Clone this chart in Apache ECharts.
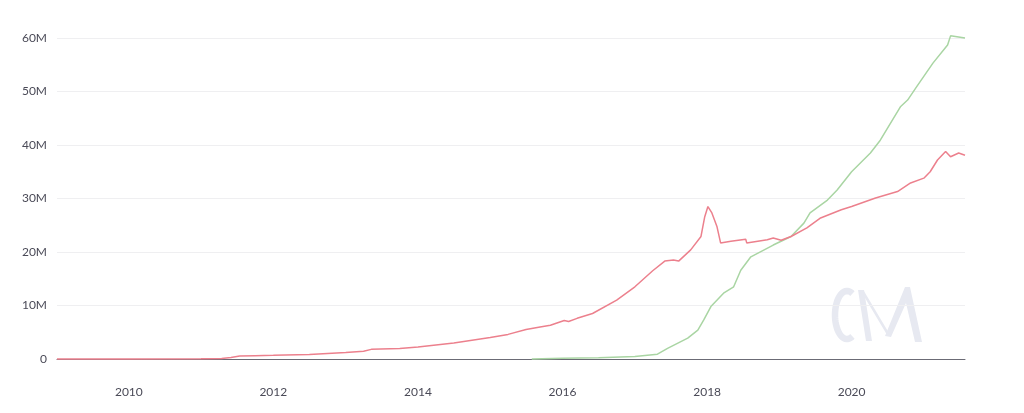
<!DOCTYPE html>
<html>
<head>
<meta charset="utf-8">
<script src="https://cdn.jsdelivr.net/npm/echarts@6/dist/echarts.min.js"></script>
<style>html,body{margin:0;padding:0;background:#fff}#c{width:1024px;height:413px}</style>
</head>
<body>
<div id="c"></div>
<script>
// Red series (dates, values in millions)
var redDates = ['2009-01-03','2010-01-01','2011-01-01','2011-04-15','2011-06-01','2011-07-15','2011-10-01','2012-01-01','2012-07-01','2013-01-01','2013-04-01','2013-05-10','2013-10-01','2014-01-01','2014-07-01','2015-01-01','2015-04-01','2015-07-01','2015-09-10','2015-11-01','2016-01-10','2016-02-01','2016-03-15','2016-06-01','2016-10-01','2017-01-01','2017-04-01','2017-06-01','2017-07-15','2017-08-10','2017-10-10','2017-12-01','2017-12-20','2018-01-05','2018-01-25','2018-02-20','2018-03-10','2018-05-01','2018-07-15','2018-07-20','2018-11-01','2018-12-01','2019-01-10','2019-03-01','2019-05-20','2019-07-25','2019-11-10','2020-01-01','2020-05-01','2020-08-20','2020-10-25','2020-12-31','2021-02-01','2021-03-10','2021-04-20','2021-05-15','2021-06-25','2021-07-27'];
var redValues = [0,0.01,0.05,0.1,0.3,0.55,0.62,0.68,0.85,1.2,1.45,1.8,1.95,2.25,3.0,4.0,4.6,5.5,6.0,6.3,7.2,7.0,7.6,8.5,11.0,13.5,16.5,18.3,18.5,18.3,20.4,22.9,26.6,28.5,27.3,24.7,21.7,22.0,22.4,21.7,22.3,22.6,22.2,22.9,24.5,26.3,27.9,28.5,30.1,31.3,32.9,33.8,35.0,37.2,38.8,37.8,38.5,38.1];
// Green series
var greenDates = ['2015-07-30','2016-01-01','2016-07-01','2017-01-01','2017-04-25','2017-06-15','2017-09-25','2017-11-15','2017-12-15','2018-01-20','2018-03-25','2018-05-15','2018-06-20','2018-08-10','2018-12-01','2019-03-01','2019-05-05','2019-06-05','2019-09-01','2019-10-20','2020-01-01','2020-04-05','2020-05-25','2020-09-05','2020-10-10','2020-11-25','2021-02-15','2021-04-30','2021-05-15','2021-07-27'];
var greenValues = [0,0.15,0.25,0.45,0.9,2.0,3.9,5.4,7.3,9.8,12.3,13.5,16.6,19.1,21.3,22.9,25.4,27.3,29.7,31.6,35.0,38.5,40.9,47.2,48.4,50.9,55.3,58.7,60.4,60.0];
// Axis ticks
var yearTicks = ['2010-01-01','2012-01-01','2014-01-01','2016-01-01','2018-01-01','2020-01-01'];
var xStart = '2009-01-03', xEnd = '2021-07-27';

function ts(s){ return Date.parse(s + 'T00:00:00Z'); }
function pairs(d, v){ return d.map(function(x,i){ return [ts(x), v[i]]; }); }

var wm = '#e7e9f1';
// watermark "C" outline as a polyline (decorative logo)
var cPts = [];
for (var k = 0; k <= 40; k++) {
  var a = Math.PI * (0.35 + 1.3 * k / 40);
  cPts.push([847 + 12 * Math.cos(a), 315 + 24 * Math.sin(a)]);
}

var chart = echarts.init(document.getElementById('c'));
chart.setOption({
  animation: false,
  grid: {left: 57, right: 59, top: 38, bottom: 54},
  xAxis: {
    type: 'value',
    min: ts(xStart),
    max: ts(xEnd),
    axisLine: {show: true, onZero: false, lineStyle: {color: '#6b6b75', width: 1}},
    axisTick: {show: false},
    splitLine: {show: false},
    axisLabel: {
      customValues: yearTicks.map(ts),
      formatter: function(v){ return String(new Date(v).getUTCFullYear()); },
      color: '#4a4a57', fontFamily: 'Lato', fontSize: 12, margin: 27
    }
  },
  yAxis: {
    type: 'value',
    min: 0, max: 60, interval: 10,
    axisLine: {show: false},
    axisTick: {show: false},
    splitLine: {lineStyle: {color: '#efeff1'}},
    axisLabel: {
      formatter: function(v){ return v === 0 ? '0' : v + 'M'; },
      color: '#4a4a57', fontFamily: 'Lato', fontSize: 12, margin: 10
    }
  },
  graphic: [
    {type: 'polyline', shape: {points: cPts}, style: {stroke: wm, lineWidth: 6.5, fill: null}, z: 0},
    {type: 'polygon', shape: {points: [[858,290],[864,290],[872,341],[866,341]]}, style: {fill: wm}, z: 0},
    {type: 'line', shape: {x1: 863, y1: 292, x2: 888, y2: 334}, style: {stroke: wm, lineWidth: 2.5}, z: 0},
    {type: 'polygon', shape: {points: [[885,336],[905,287],[910,287],[922,342],[915,342],[906,303],[891,337]]}, style: {fill: wm}, z: 0}
  ],
  series: [
    {type: 'line', data: pairs(greenDates, greenValues), showSymbol: false, clip: false, lineStyle: {color: '#a9d5a3', width: 1.5}, itemStyle: {color: '#a9d5a3'}, z: 2},
    {type: 'line', data: pairs(redDates, redValues), showSymbol: false, clip: false, lineStyle: {color: '#ec808d', width: 1.5}, itemStyle: {color: '#ec808d'}, z: 3}
  ]
});
</script>
</body>
</html>
